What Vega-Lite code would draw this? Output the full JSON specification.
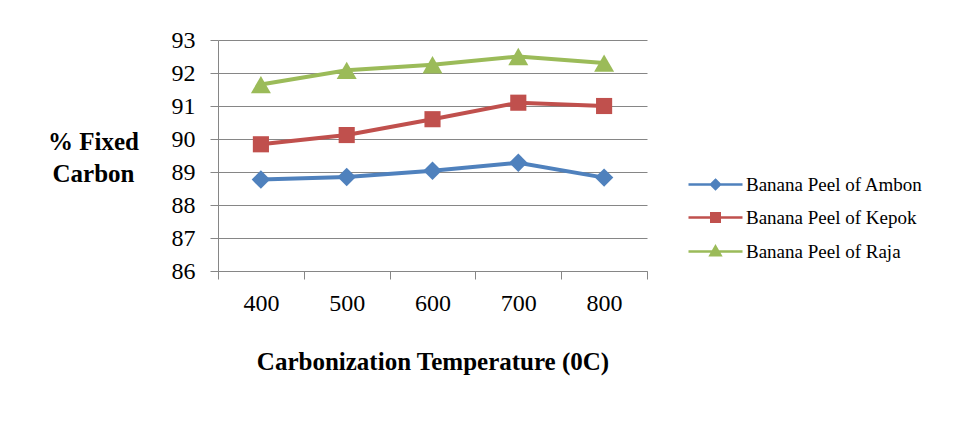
{
  "$schema": "https://vega.github.io/schema/vega-lite/v6.json",
  "width": 429,
  "height": 231,
  "autosize": "none",
  "padding": {"left": 218, "top": 40, "right": 310, "bottom": 161},
  "background": "white",
  "config": {
    "view": {"stroke": null},
    "axis": {
      "labelFont": "Liberation Serif",
      "labelFontSize": 24,
      "labelColor": "#000000",
      "titleFont": "Liberation Serif",
      "titleFontSize": 25,
      "titleFontWeight": "bold",
      "titleColor": "#000000",
      "domainColor": "#868686",
      "tickColor": "#868686",
      "gridColor": "#868686",
      "tickSize": 8
    }
  },
  "data": {
    "values": [
      {"temp": "400", "series": "Banana Peel of Ambon", "value": 88.77},
      {"temp": "500", "series": "Banana Peel of Ambon", "value": 88.85},
      {"temp": "600", "series": "Banana Peel of Ambon", "value": 89.04},
      {"temp": "700", "series": "Banana Peel of Ambon", "value": 89.28},
      {"temp": "800", "series": "Banana Peel of Ambon", "value": 88.83},
      {"temp": "400", "series": "Banana Peel of Kepok", "value": 89.84},
      {"temp": "500", "series": "Banana Peel of Kepok", "value": 90.12},
      {"temp": "600", "series": "Banana Peel of Kepok", "value": 90.6},
      {"temp": "700", "series": "Banana Peel of Kepok", "value": 91.1},
      {"temp": "800", "series": "Banana Peel of Kepok", "value": 91.0},
      {"temp": "400", "series": "Banana Peel of Raja", "value": 91.65},
      {"temp": "500", "series": "Banana Peel of Raja", "value": 92.08},
      {"temp": "600", "series": "Banana Peel of Raja", "value": 92.25},
      {"temp": "700", "series": "Banana Peel of Raja", "value": 92.5},
      {"temp": "800", "series": "Banana Peel of Raja", "value": 92.3}
    ]
  },
  "encoding": {
    "x": {
      "field": "temp",
      "type": "ordinal",
      "scale": {"type": "band", "paddingInner": 0, "paddingOuter": 0},
      "axis": {
        "title": "Carbonization Temperature (0C)",
        "labelAngle": 0,
        "tickBand": "extent",
        "labelPadding": 12,
        "titlePadding": 34
      }
    },
    "y": {
      "field": "value",
      "type": "quantitative",
      "scale": {"domain": [86, 93], "nice": false, "zero": false},
      "axis": {
        "title": ["% Fixed", "Carbon"],
        "values": [86, 87, 88, 89, 90, 91, 92, 93],
        "grid": true,
        "labelPadding": 15,
        "titleAngle": 0,
        "titleAlign": "center",
        "titleBaseline": "middle",
        "titleX": -125,
        "titleY": 101,
        "titleLineHeight": 32
      }
    },
    "color": {
      "field": "series",
      "type": "nominal",
      "scale": {
        "domain": ["Banana Peel of Ambon", "Banana Peel of Kepok", "Banana Peel of Raja"],
        "range": ["#4F81BD", "#C0504D", "#9BBB59"]
      }
    }
  },
  "layer": [
    {
      "mark": {"type": "line", "strokeWidth": 4},
      "encoding": {
        "color": {
          "field": "series",
          "type": "nominal",
          "legend": {
            "title": null,
            "orient": "none",
            "legendX": 488,
            "legendY": 135,
            "labelFont": "Liberation Serif",
            "labelFontSize": 19,
            "labelColor": "#000000",
            "labelLimit": 400,
            "symbolSize": 100,
            "labelOffset": 21,
            "rowPadding": 13,
            "encode": {
              "symbols": {
                "update": {
                  "shape": {"signal": "datum.value === 'Banana Peel of Ambon' ? 'M-5.4,0H5.4M0,-0.9L0.9,0L0,0.9L-0.9,0Z' : datum.value === 'Banana Peel of Kepok' ? 'M-5.4,0H5.4M-0.85,-0.85H0.85V0.85H-0.85Z' : 'M-5.4,0H5.4M0,-1L1,0.75H-1Z'"},
                  "fill": {"scale": "color", "field": "value"},
                  "stroke": {"scale": "color", "field": "value"},
                  "strokeWidth": {"value": 2.5},
                  "opacity": {"value": 1}
                }
              }
            }
          }
        }
      }
    },
    {
      "mark": {"type": "point", "filled": true, "opacity": 1},
      "encoding": {
        "shape": {
          "condition": [
            {"test": "datum.series === 'Banana Peel of Ambon'", "value": "diamond"},
            {"test": "datum.series === 'Banana Peel of Kepok'", "value": "square"}
          ],
          "value": "triangle-up"
        },
        "size": {
          "condition": [
            {"test": "datum.series === 'Banana Peel of Ambon'", "value": 340},
            {"test": "datum.series === 'Banana Peel of Kepok'", "value": 260}
          ],
          "value": 400
        },
        "color": {"field": "series", "type": "nominal", "legend": null}
      }
    }
  ]
}
